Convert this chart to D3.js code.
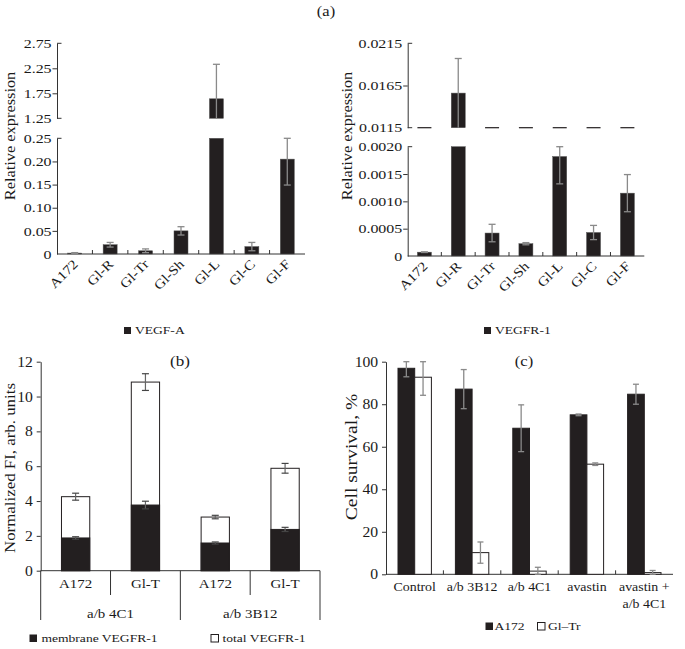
<!DOCTYPE html>
<html><head><meta charset="utf-8">
<script src="https://cdn.jsdelivr.net/npm/d3@7"></script>
<style>
body{margin:0;background:#fff;}
svg{display:block;font-family:"Liberation Serif","Times New Roman",serif;}
</style></head><body>
<svg id="c" width="685" height="649"></svg>
<script>
// ---------- DATA ----------
const catsExpr = ["A172","Gl-R","Gl-Tr","Gl-Sh","Gl-L","Gl-C","Gl-F"];
const vegfA    = [0.002, 0.020, 0.007, 0.050, 1.64, 0.016, 0.205];
const vegfAErr = [0.001, 0.005, 0.004, 0.009, 0.69, 0.009, 0.056];
const vegfALowTicks = [0, 0.05, 0.10, 0.15, 0.20, 0.25];
const vegfALowLabels = ["0","0.05","0.10","0.15","0.20","0.25"];
const vegfAHighTicks = [1.25, 1.75, 2.25, 2.75];
const vegfAHighLabels = ["1.25","1.75","2.25","2.75"];

const vegfR1    = [0.00007, 0.0156, 0.00042, 0.000225, 0.00182, 0.00043, 0.00115];
const vegfR1Err = [0.000006, 0.0041, 0.00016, 0.00002, 0.0005, 0.00013, 0.00034];
const vegfR1LowTicks = [0, 0.0005, 0.0010, 0.0015, 0.0020];
const vegfR1LowLabels = ["0","0.0005","0.0010","0.0015","0.0020"];
const vegfR1HighTicks = [0.0115, 0.0165, 0.0215];
const vegfR1HighLabels = ["0.0115","0.0165","0.0215"];

const bGroups = ["a/b 4C1","a/b 3B12"];
const bCells = ["A172","Gl-T","A172","Gl-T"];
const bCellGroup = [0,0,1,1];
const membrane    = [1.88, 3.77, 1.59, 2.37];
const membraneErr = [0.07, 0.22, 0.06, 0.12];
const totalR1     = [4.25, 10.83, 3.08, 5.88];
const totalR1Err  = [0.20, 0.48, 0.10, 0.28];
const bTicks = [0,2,4,6,8,10,12];

const treatments = ["Control","a/b 3B12","a/b 4C1","avastin","avastin +|a/b 4C1"];
const survA172    = [96.9, 87.1, 68.7, 75.0, 84.7];
const survA172Err = [4.0, 9.2, 11.0, 0.4, 4.7];
const survGlTr    = [92.7, 10.2, 1.5, 51.8, 0.8];
const survGlTrErr = [8.5, 5.0, 1.8, 0.6, 1.0];
const cTicks = [0,20,40,60,80,100];

// ---------- DRAW ----------
const svg = d3.select("#c");
const DARK = "#231f20", ERR = "#8a8a8a", AX = "#333", TXT = "#1a1a1a";

function txt(g, x, y, s, size, o={}){
  const sx = o.sx||1.18, rot = o.rot||0;
  return g.append("text")
    .attr("transform",`translate(${x},${y}) rotate(${rot}) scale(${sx},1)`)
    .attr("text-anchor",o.anchor||"start").attr("font-size",size).attr("fill",TXT).text(s);
}
function styleAxis(a,size,sx){
  a.attr("font-family",null).attr("font-size",null);
  a.selectAll("path").attr("stroke",AX);
  a.selectAll("line").attr("stroke",AX);
  a.selectAll("text").attr("font-size",size).attr("fill",TXT).attr("transform",`scale(${sx},1)`);
}

txt(svg,326,16,"(a)",14,{anchor:"middle"});

function brokenChart(o){
  const g = svg.append("g");
  const low = d3.scaleLinear().domain(o.lowDom).range(o.lowRange);
  const high = d3.scaleLinear().domain(o.highDom).range(o.highRange);
  const x = d3.scaleBand().domain(o.cats).range(o.xRange).padding(0);
  const bw = o.barW;
  const inner = t => t.filter(v=>v!==o.lowDom[0]&&v!==o.lowDom[1]&&v!==o.highDom[0]&&v!==o.highDom[1]);
  const fmtL = d=>o.lowLabels[o.lowTicks.indexOf(d)], fmtH = d=>o.highLabels[o.highTicks.indexOf(d)];
  [[low,o.lowTicks,fmtL],[high,o.highTicks,fmtH]].forEach(([sc,tv,fm])=>{
    const a = g.append("g").attr("transform",`translate(${o.axisX},0)`)
      .call(d3.axisLeft(sc).tickValues(tv).tickFormat(fm).tickSize(4.5).tickSizeOuter(0).tickPadding(0));
    a.selectAll(".tick").filter(d=>!inner(tv).includes(d)).select("line").remove();
    styleAxis(a,13.3,1.2);
  });
  [low(o.lowDom[1]),high(o.highDom[0]),high(o.highDom[1])].forEach(yy=>{
    g.append("line").attr("x1",o.axisX).attr("x2",o.axisX+4.5).attr("y1",yy).attr("y2",yy).attr("stroke",AX);
  });
  const y0 = low(0);
  g.append("line").attr("x1",o.axisX).attr("x2",o.xEnd).attr("y1",y0).attr("y2",y0).attr("stroke",AX);
  o.cats.slice(1).forEach(c=>{
    const xb = x(c);
    g.append("line").attr("x1",xb).attr("x2",xb).attr("y1",y0).attr("y2",y0-4).attr("stroke",AX);
  });
  o.vals.forEach((v,i)=>{
    const c = o.cats[i], cx = x(c)+x.bandwidth()/2, e = o.errs[i];
    const lowTop = Math.min(v,o.lowDom[1]);
    g.append("rect").attr("x",cx-bw/2).attr("width",bw).attr("y",low(lowTop)).attr("height",y0-low(lowTop))
      .attr("fill",DARK).attr("stroke","#555").attr("stroke-width",0.5);
    if(v>o.lowDom[1]){
      g.append("rect").attr("x",cx-bw/2).attr("width",bw).attr("y",high(v)).attr("height",high(o.highDom[0])-high(v))
        .attr("fill",DARK).attr("stroke","#555").attr("stroke-width",0.5);
      const top = high(v+e), bot = high(Math.max(v-e,o.highDom[0]));
      g.append("line").attr("x1",cx).attr("x2",cx).attr("y1",top).attr("y2",bot).attr("stroke",ERR).attr("stroke-width",1.3);
      g.append("line").attr("x1",cx-3.5).attr("x2",cx+3.5).attr("y1",top).attr("y2",top).attr("stroke",ERR).attr("stroke-width",1.3);
    } else {
      const top = low(Math.min(v+e,o.lowDom[1])), bot = low(Math.max(v-e,0));
      g.append("line").attr("x1",cx).attr("x2",cx).attr("y1",top).attr("y2",bot).attr("stroke",ERR).attr("stroke-width",1.3);
      [top,bot].forEach(yy=>g.append("line").attr("x1",cx-3.5).attr("x2",cx+3.5).attr("y1",yy).attr("y2",yy).attr("stroke",ERR).attr("stroke-width",1.3));
      if(o.dashes){
        g.append("line").attr("x1",cx-bw/2).attr("x2",cx+bw/2).attr("y1",high(o.highDom[0])).attr("y2",high(o.highDom[0]))
          .attr("stroke",DARK).attr("stroke-width",1.2);
      }
    }
    txt(g,cx+4,y0+11,c,13.3,{rot:-45,anchor:"end",sx:1.15});
  });
  txt(g,o.labelX,136,"Relative expression",14,{rot:-90,anchor:"middle",sx:1.17});
  g.append("rect").attr("x",o.legX).attr("y",327).attr("width",7).attr("height",7).attr("fill",DARK);
  txt(g,o.legX+11,334.3,o.legend,11.3,{sx:1.2});
}

brokenChart({cats:catsExpr, vals:vegfA, errs:vegfAErr,
  lowDom:[0,0.25], lowRange:[254,138.3], highDom:[1.25,2.75], highRange:[118.3,43.3],
  lowTicks:vegfALowTicks, lowLabels:vegfALowLabels, highTicks:vegfAHighTicks, highLabels:vegfAHighLabels,
  axisX:57, xRange:[57,305], xEnd:305, barW:14, labelX:15, legX:124, legend:"VEGF-A", dashes:false});

brokenChart({cats:catsExpr, vals:vegfR1, errs:vegfR1Err,
  lowDom:[0,0.002], lowRange:[256,146.7], highDom:[0.0115,0.0215], highRange:[127.7,43.3],
  lowTicks:vegfR1LowTicks, lowLabels:vegfR1LowLabels, highTicks:vegfR1HighTicks, highLabels:vegfR1HighLabels,
  axisX:407.7, xRange:[407.5,644.3], xEnd:644.3, barW:14, labelX:352, legX:484, legend:"VEGFR-1", dashes:true});

// ---------- (b) ----------
(function(){
  const g = svg.append("g");
  const y = d3.scaleLinear().domain([0,12]).range([570.7,361.7]);
  const x = d3.scaleBand().domain(d3.range(bCells.length)).range([40.7,320]).padding(0);
  const ax = g.append("g").attr("transform","translate(40.7,0)")
    .call(d3.axisLeft(y).tickValues(bTicks).tickSize(4).tickSizeOuter(0).tickPadding(3));
  styleAxis(ax,14,1.12);
  const y0 = y(0);
  g.append("line").attr("x1",40.7).attr("x2",320).attr("y1",y0).attr("y2",y0).attr("stroke",AX);
  const bw = x.bandwidth()*0.405;
  bCells.forEach((c,i)=>{
    const cx = x(i)+x.bandwidth()/2;
    g.append("rect").attr("x",cx-bw/2).attr("width",bw).attr("y",y(totalR1[i])).attr("height",y0-y(totalR1[i]))
      .attr("fill","#fff").attr("stroke",DARK).attr("stroke-width",1);
    g.append("rect").attr("x",cx-bw/2).attr("width",bw).attr("y",y(membrane[i])).attr("height",y0-y(membrane[i]))
      .attr("fill",DARK).attr("stroke",DARK).attr("stroke-width",1);
    [[totalR1[i],totalR1Err[i]],[membrane[i],membraneErr[i]]].forEach(([v,e])=>{
      const t=y(v+e), b=y(v-e);
      g.append("line").attr("x1",cx).attr("x2",cx).attr("y1",t).attr("y2",b).attr("stroke","#666").attr("stroke-width",1.2);
      [t,b].forEach(yy=>g.append("line").attr("x1",cx-3.5).attr("x2",cx+3.5).attr("y1",yy).attr("y2",yy).attr("stroke","#444").attr("stroke-width",1.2));
    });
    txt(g,cx,588,c,13,{anchor:"middle",sx:1.15});
  });
  d3.range(bCells.length+1).forEach(k=>{
    const xx = k<bCells.length ? x(k) : 320;
    const isGroup = (k===0 || k===bCells.length || bCellGroup[k]!==bCellGroup[k-1]);
    g.append("line").attr("x1",xx).attr("x2",xx).attr("y1",y0).attr("y2",isGroup?620:595).attr("stroke",AX);
  });
  bGroups.forEach((gr,j)=>{
    const idx = bCellGroup.map((v,i)=>v===j?i:-1).filter(i=>i>=0);
    const x1 = x(idx[0]), x2 = x(idx[idx.length-1])+x.bandwidth();
    txt(g,(x1+x2)/2,618,gr,13,{anchor:"middle",sx:1.15});
  });
  txt(g,180,366,"(b)",14.5,{anchor:"middle"});
  txt(g,15,468,"Normalized FI, arb. units",14.3,{rot:-90,anchor:"middle"});
  g.append("rect").attr("x",29.5).attr("y",634.5).attr("width",7.5).attr("height",7.5).attr("fill",DARK);
  txt(g,41.5,642,"membrane VEGFR-1",11.3,{sx:1.2});
  g.append("rect").attr("x",211).attr("y",634.5).attr("width",7.5).attr("height",7.5).attr("fill","#fff").attr("stroke",DARK);
  txt(g,222.5,642,"total VEGFR-1",11.3,{sx:1.2});
})();

// ---------- (c) ----------
(function(){
  const g = svg.append("g");
  const y = d3.scaleLinear().domain([0,100]).range([574.3,361.7]);
  const x = d3.scaleBand().domain(treatments).range([386,673]).padding(0);
  const ax = g.append("g").attr("transform","translate(386,0)")
    .call(d3.axisLeft(y).tickValues(cTicks).tickSize(4).tickSizeOuter(0).tickPadding(3));
  styleAxis(ax,14,1.12);
  const y0 = y(0);
  g.append("line").attr("x1",386).attr("x2",673).attr("y1",y0).attr("y2",y0).attr("stroke",AX);
  treatments.slice(1).forEach(t=>{
    g.append("line").attr("x1",x(t)).attr("x2",x(t)).attr("y1",y0).attr("y2",y0-4).attr("stroke",AX);
  });
  const bw = 16.7;
  treatments.forEach((t,i)=>{
    const cx = x(t)+x.bandwidth()/2;
    [[survA172[i],survA172Err[i],cx-bw,DARK],[survGlTr[i],survGlTrErr[i],cx,"#fff"]].forEach(([v,e,bx,fill])=>{
      g.append("rect").attr("x",bx).attr("width",bw).attr("y",y(v)).attr("height",y0-y(v))
        .attr("fill",fill).attr("stroke",DARK).attr("stroke-width",1);
      const mx = bx+bw/2, tp=y(Math.min(v+e,100)), bt=y(Math.max(v-e,0));
      g.append("line").attr("x1",mx).attr("x2",mx).attr("y1",tp).attr("y2",bt).attr("stroke",ERR).attr("stroke-width",1.3);
      [tp,bt].forEach(yy=>g.append("line").attr("x1",mx-3).attr("x2",mx+3).attr("y1",yy).attr("y2",yy).attr("stroke",ERR).attr("stroke-width",1.3));
    });
    t.split("|").forEach((ln,k)=>{
      txt(g,cx,591+k*17,ln,12.3,{anchor:"middle",sx:1.13});
    });
  });
  txt(g,524,366,"(c)",14,{anchor:"middle"});
  txt(g,357,457,"Cell survival, %",16.3,{rot:-90,anchor:"middle",sx:1.2});
  g.append("rect").attr("x",485.5).attr("y",622.5).attr("width",7.5).attr("height",7.5).attr("fill",DARK);
  txt(g,494.5,630,"A172",11.3,{sx:1.2});
  g.append("rect").attr("x",537.5).attr("y",622.5).attr("width",7.5).attr("height",7.5).attr("fill","#fff").attr("stroke",DARK);
  txt(g,548,630,"Gl–Tr",11.3,{sx:1.2});
})();
</script></body></html>
